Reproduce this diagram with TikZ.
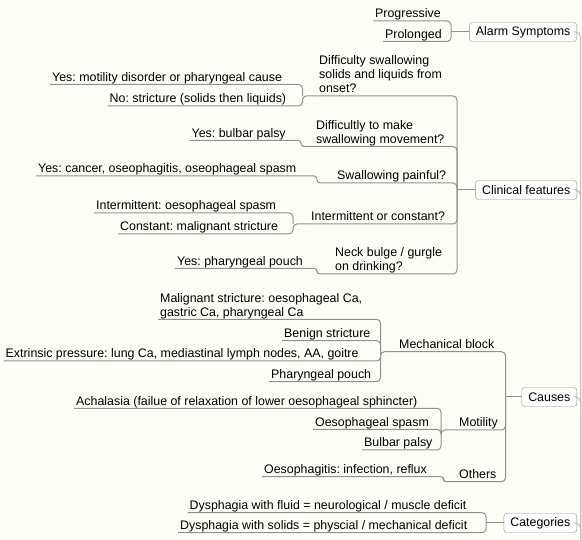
\documentclass[tikz,border=0pt]{standalone}
\usepackage{fontspec}
\setmainfont{Liberation Sans}
\usepackage{tikz}
\frenchspacing
\definecolor{paper}{RGB}{254,254,247}
\definecolor{linegray}{RGB}{145,145,145}
\definecolor{trunkgray}{RGB}{190,190,190}
\newcommand{\mapfont}{\fontsize{12.4}{14}\selectfont}
\tikzset{
    topic/.style = {rectangle, rounded corners=3pt, minimum height=19pt, inner xsep=6.5pt, inner ysep=0pt, draw=linegray, fill=white, anchor=east, font=\mapfont},
    leaf/.style = {inner xsep=2pt, inner ysep=0pt, align=left, anchor=south west, font=\mapfont, execute at end node={\rule[-3pt]{0pt}{3pt}}},
    link/.style = {draw=linegray, line width=1pt, rounded corners=4pt},
    steplink/.style = {link, rounded corners=3pt},
    trunk/.style = {draw=trunkgray, line width=1pt, rounded corners=5pt}
}

\begin{document}
\begin{tikzpicture}[x=1pt, y=-1pt]
\fill[paper] (0,0) rectangle (582,540);
\useasboundingbox (0,0) rectangle (582,540);

\node (alarm) [topic] at (577,32) {Alarm Symptoms};
\node (progressive) [leaf] at (373,21) {Progressive};
\node (prolonged) [leaf] at (383,41.5) {Prolonged};
\coordinate (jalarm) at (451,32);

\node (clinical) [topic] at (577,190) {Clinical features};
\coordinate (jclin) at (457,190);
\node (qonset) [leaf] at (317,96) {Difficulty swallowing\\solids and liquids from\\onset?};
\node (ymotility) [leaf] at (50,84.5) {Yes: motility disorder or pharyngeal cause};
\node (nstricture) [leaf] at (107.5,106) {No: stricture (solids then liquids)};
\coordinate (jonset) at (302.5,96);
\node (qmovement) [leaf] at (314,146.5) {Difficultly to make\\swallowing movement?};
\node (ybulbar) [leaf] at (189.5,140.5) {Yes: bulbar palsy};
\coordinate (jmove) at (301,146.5);
\node (qpainful) [leaf] at (335,183) {Swallowing painful?};
\node (ycancer) [leaf] at (36,176) {Yes: cancer, oseophagitis, oseophageal spasm};
\coordinate (jpain) at (317,183);
\node (qconstant) [leaf] at (309,224) {Intermittent or constant?};
\node (intermittent) [leaf] at (94,213) {Intermittent: oesophageal spasm};
\node (constant) [leaf] at (118,234) {Constant: malignant stricture};
\coordinate (jconst) at (293,224);
\node (qneck) [leaf] at (333,274) {Neck bulge / gurgle\\on drinking?};
\node (ypouch) [leaf] at (175,268.5) {Yes: pharyngeal pouch};
\coordinate (jneck) at (317,274);

\node (causes) [topic] at (577,397) {Causes};
\coordinate (jcause) at (505.5,397);
\node (mechanical) [leaf] at (397,351.7) {Mechanical block};
\node (malignant) [leaf] at (158,319.3) {Malignant stricture: oesophageal Ca,\\gastric Ca, pharyngeal Ca};
\node (benign) [leaf] at (282,340.7) {Benign stricture};
\node (extrinsic) [leaf] at (3.5,361) {Extrinsic pressure: lung Ca, mediastinal lymph nodes, AA, goitre};
\node (pouch) [leaf] at (269,381.7) {Pharyngeal pouch};
\coordinate (jmech) at (380.5,351.7);
\node (motility) [leaf] at (457,430) {Motility};
\node (achalasia) [leaf] at (74,408.3) {Achalasia (failue of relaxation of lower oesophageal sphincter)};
\node (spasm) [leaf] at (313,429.3) {Oesophageal spasm};
\node (bulbar) [leaf] at (362,450) {Bulbar palsy};
\coordinate (jmot) at (441,430);
\node (others) [leaf] at (457,481.7) {Others};
\node (oesophagitis) [leaf] at (262,476.7) {Oesophagitis: infection, reflux};
\coordinate (joth) at (443.5,481.7);

\node (categories) [topic] at (577,523) {Categories};
\node (fluid) [leaf] at (187.5,512.7) {Dysphagia with fluid = neurological / muscle deficit};
\node (solids) [leaf] at (178,532.7) {Dysphagia with solids = physcial / mechanical deficit};
\coordinate (jcat) at (486,523);

\coordinate (root) at (580.5,540);

\draw [trunk] (alarm.east) -| (root);
\draw [trunk] (clinical.east) -| (root);
\draw [trunk] (causes.east) -| (root);
\draw [trunk] (categories.east) -| (root);

\draw [link] (progressive.south west) -| (jalarm);
\draw [link] (prolonged.south west) -| (jalarm);
\draw [link] (jalarm) -- (alarm.west);

\draw [link] (qonset.south west) -| (jclin);
\draw [link] (qmovement.south west) -| (jclin);
\draw [link] (qpainful.south west) -| (jclin);
\draw [link] (qconstant.south west) -| (jclin);
\draw [link] (qneck.south west) -| (jclin);
\draw [link] (jclin) -- (clinical.west);
\draw [link] (ymotility.south west) -| (jonset);
\draw [link] (nstricture.south west) -| (jonset) -- (qonset.south west);
\draw [steplink] (ybulbar.south west) -| (jmove) -- (qmovement.south west);
\draw [steplink] (ycancer.south west) -| (jpain) -- (qpainful.south west);
\draw [link] (intermittent.south west) -| (jconst);
\draw [link] (constant.south west) -| (jconst) -- (qconstant.south west);
\draw [steplink] (ypouch.south west) -| (jneck) -- (qneck.south west);

\draw [link] (mechanical.south west) -| (jcause);
\draw [link] (motility.south west) -| (jcause);
\draw [link] (others.south west) -| (jcause);
\draw [link] (jcause) -- (causes.west);
\draw [link] (malignant.south west) -| (jmech);
\draw [link] (benign.south west) -| (jmech);
\draw [link] (extrinsic.south west) -| (jmech);
\draw [link] (pouch.south west) -| (jmech) -- (mechanical.south west);
\draw [link] (achalasia.south west) -| (jmot);
\draw [link] (spasm.south west) -| (jmot);
\draw [link] (bulbar.south west) -| (jmot) -- (motility.south west);
\draw [steplink] (oesophagitis.south west) -| (joth) -- (others.south west);

\draw [link] (fluid.south west) -| (jcat);
\draw [link] (solids.south west) -| (jcat);
\draw [link] (jcat) -- (categories.west);
\end{tikzpicture}
\end{document}
